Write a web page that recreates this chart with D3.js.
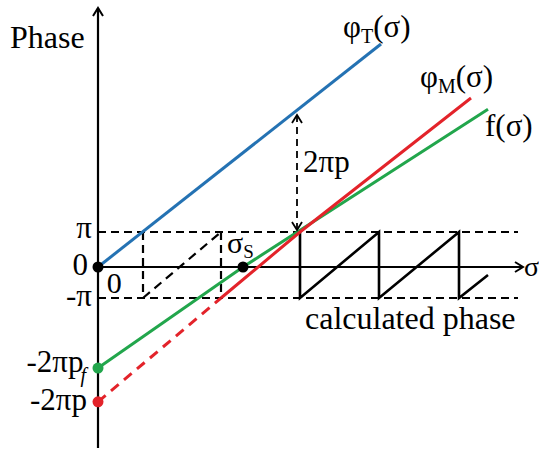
<!DOCTYPE html>
<html>
<head>
<meta charset="utf-8">
<script src="https://cdn.jsdelivr.net/npm/d3@7"></script>
<style>
  html, body { margin: 0; padding: 0; background: #fff; }
  svg { display: block; }
</style>
</head>
<body>
<svg id="chart" width="539" height="451"></svg>
<script>
// Phase values are in units of π; σ is in arbitrary units.
const phaseTicks = [-1, 0, 1];
const phaseTickLabels = ["-π", "0", "π"];

// True phase φT(σ): straight line from the origin
const phiT = [[0, 0], [70.75, 6.37]];
// Model phase φM(σ): dashed part below -π, solid part above
const phiMDashed = [[0, -4.35], [30.75, -1]];
const phiMSolid = [[30.75, -1], [50.5, 1], [93.25, 4.83]];
// Fitted line f(σ)
const fLine = [[0, -3.26], [36.25, 0], [97.5, 4.51]];
// Wrapped segment of φT between -π and π
const wrapped = [[11.25, -1], [30.75, 1]];
const wrapGuides = [11.25, 30.75];
// Calculated (wrapped) phase: sawtooth
const sawtooth = [[50.5, 1], [50.5, -1], [70.25, 1], [70.25, -1], [90.25, 1], [90.25, -1], [97.5, -0.26]];
// Key points
const sigmaS = 36.25;
const interceptF = -3.26;
const interceptP = -4.35;
// Offset arrow between φT and φM
const offsetArrow = { sigma: 49.75, top: 4.4, bottom: 1 };

const sigmaMax = 106.25, bandEnd = 105;
const phaseMin = -5.84, phaseMax = 7.4;

const colors = { T: "#2472b3", M: "#e3232a", f: "#22a64c", ink: "#000" };
const FONT = "Liberation Serif";

const svg = d3.select("#chart");

const x = d3.scaleLinear().domain([0, 100]).range([98, 498]);
const y = d3.scaleLinear().domain([-1, 0, 1]).range([298, 267, 232]);

const line = d3.line().x(d => x(d[0])).y(d => y(d[1]));

function label(px, py, size) {
  return svg.append("text")
    .attr("font-family", FONT)
    .attr("x", px).attr("y", py)
    .attr("font-size", size)
    .attr("fill", colors.ink);
}

// arrowhead markers (open chevrons)
const defs = svg.append("defs");
function chevron(id, w) {
  defs.append("marker")
    .attr("id", id)
    .attr("viewBox", "-10 -6 12 12")
    .attr("refX", 0).attr("refY", 0)
    .attr("markerWidth", 12).attr("markerHeight", 12)
    .attr("markerUnits", "userSpaceOnUse")
    .attr("orient", "auto-start-reverse")
    .append("path")
    .attr("d", "M-8,-5 L0,0 L-8,5")
    .attr("fill", "none")
    .attr("stroke", colors.ink)
    .attr("stroke-width", w);
}
chevron("arrowAxis", 2);
chevron("arrowDim", 1.8);

// π and -π band limits
svg.append("g").selectAll("line").data([1, -1]).join("line")
  .attr("x1", x(0)).attr("x2", x(bandEnd))
  .attr("y1", d => y(d)).attr("y2", d => y(d))
  .attr("stroke", colors.ink).attr("stroke-width", 2)
  .attr("stroke-dasharray", "8,5");

// wrapped φT guides
svg.append("g").selectAll("line").data(wrapGuides).join("line")
  .attr("x1", d => x(d)).attr("x2", d => x(d))
  .attr("y1", y(1)).attr("y2", y(-1))
  .attr("stroke", colors.ink).attr("stroke-width", 2.2)
  .attr("stroke-dasharray", "8,5");
svg.append("path").datum(wrapped).attr("d", line)
  .attr("fill", "none").attr("stroke", colors.ink).attr("stroke-width", 2.2)
  .attr("stroke-dasharray", "9,6");

// axes
svg.append("line")
  .attr("x1", x(0)).attr("x2", x(0))
  .attr("y1", y(phaseMin)).attr("y2", y(phaseMax))
  .attr("stroke", colors.ink).attr("stroke-width", 2.2)
  .attr("marker-end", "url(#arrowAxis)");
svg.append("line")
  .attr("x1", x(0)).attr("x2", x(sigmaMax))
  .attr("y1", y(0)).attr("y2", y(0))
  .attr("stroke", colors.ink).attr("stroke-width", 2.2)
  .attr("marker-end", "url(#arrowAxis)");

// sawtooth
svg.append("path").datum(sawtooth).attr("d", line)
  .attr("fill", "none").attr("stroke", colors.ink).attr("stroke-width", 2.6)
  .attr("stroke-linejoin", "miter");

// coloured phase lines
svg.append("path").datum(phiT).attr("d", line)
  .attr("fill", "none").attr("stroke", colors.T).attr("stroke-width", 3);
svg.append("path").datum(fLine).attr("d", line)
  .attr("fill", "none").attr("stroke", colors.f).attr("stroke-width", 3);
svg.append("path").datum(phiMDashed).attr("d", line)
  .attr("fill", "none").attr("stroke", colors.M).attr("stroke-width", 3)
  .attr("stroke-dasharray", "10,7");
svg.append("path").datum(phiMSolid).attr("d", line)
  .attr("fill", "none").attr("stroke", colors.M).attr("stroke-width", 3);

// 2πp offset arrow
svg.append("line")
  .attr("x1", x(offsetArrow.sigma)).attr("x2", x(offsetArrow.sigma))
  .attr("y1", y(offsetArrow.top) + 2).attr("y2", y(offsetArrow.bottom) - 2)
  .attr("stroke", colors.ink).attr("stroke-width", 1.8)
  .attr("stroke-dasharray", "7,5")
  .attr("marker-start", "url(#arrowDim)")
  .attr("marker-end", "url(#arrowDim)");

// points
svg.append("circle").attr("cx", x(0)).attr("cy", y(0)).attr("r", 5.5).attr("fill", colors.ink);
svg.append("circle").attr("cx", x(sigmaS)).attr("cy", y(0)).attr("r", 5.5).attr("fill", colors.ink);
svg.append("circle").attr("cx", x(0)).attr("cy", y(interceptF)).attr("r", 5.5).attr("fill", colors.f);
svg.append("circle").attr("cx", x(0)).attr("cy", y(interceptP)).attr("r", 5.5).attr("fill", colors.M);

// phase tick labels
const tickRight = [92, 88, 92];
const tickDrop = [8, 8, 6];
phaseTicks.forEach((d, i) => {
  label(tickRight[i], y(d) + tickDrop[i], 31).attr("text-anchor", "end").text(phaseTickLabels[i]);
});

// origin label on the σ axis
label(x(2.2), y(0) + 26, 30).text("0");

// intercept labels
const tF = label(x(0) - 12, y(interceptF) + 4, 31).attr("text-anchor", "end");
tF.append("tspan").text("-2πp");
tF.append("tspan").attr("font-size", 20).attr("font-style", "italic").attr("dx", -3).attr("dy", 10).text("f");

label(x(0) - 11, y(interceptP) + 8, 31).attr("text-anchor", "end").text("-2πp");

// axis titles
label(10, 48, 32).text("Phase");
label(x(sigmaMax) + 1, y(0) + 9, 28).text("σ");

// σS label
const tS = label(x(sigmaS) - 16, y(0) - 14, 30);
tS.append("tspan").text("σ");
tS.append("tspan").attr("font-size", 19).attr("dy", 5).text("S");

// 2πp label
label(x(offsetArrow.sigma) + 6, 172, 31).text("2πp");

// series labels
function seriesLabel(px, py, sub) {
  const t = label(px, py, 31);
  t.append("tspan").text("φ");
  t.append("tspan").attr("font-size", 20).attr("dy", 6).text(sub);
  t.append("tspan").attr("dy", -6).text("(σ)");
}
seriesLabel(343, 37, "T");
seriesLabel(420, 87, "M");
label(485, 136, 31).text("f(σ)");

// calculated phase caption
label(305, 329, 32).text("calculated phase");
</script>
</body>
</html>
